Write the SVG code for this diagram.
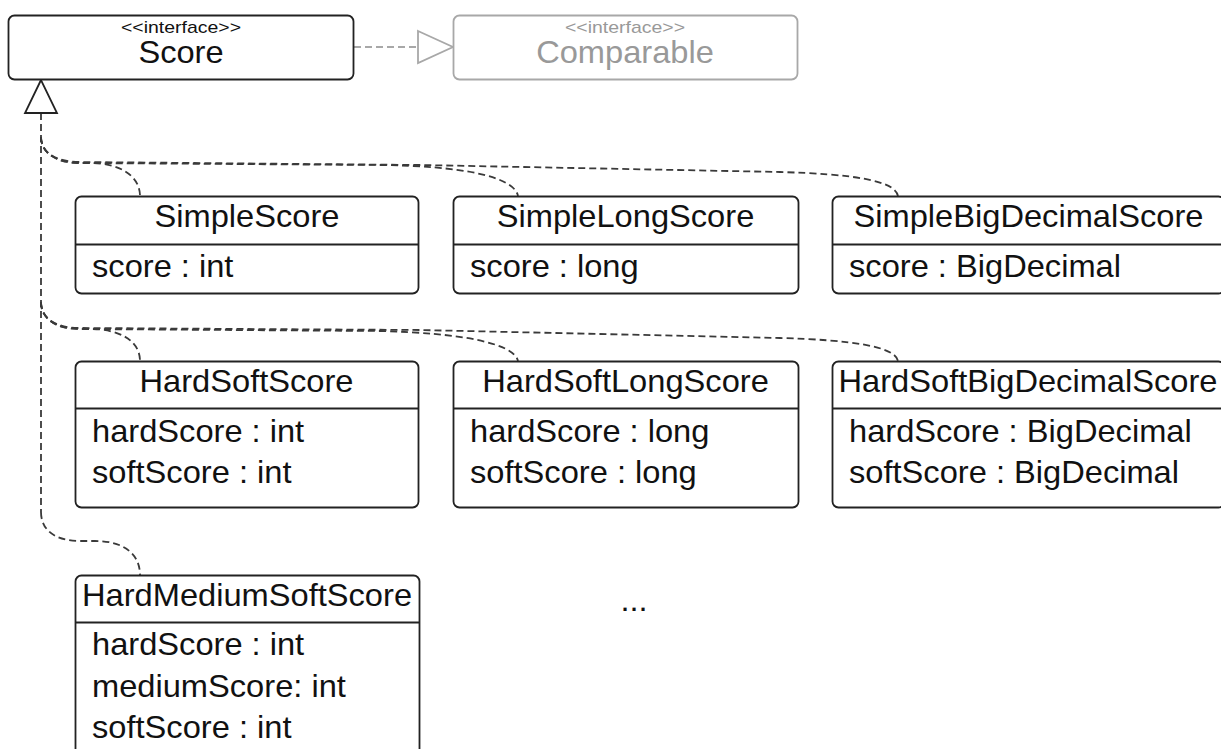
<svg xmlns="http://www.w3.org/2000/svg" width="1221" height="749" viewBox="0 0 1221 749">
<style>
.box{fill:#fff;stroke:#222;stroke-width:1.8}
.div{stroke:#222;stroke-width:1.8}
.t{font-family:"Liberation Sans",Arial,sans-serif;font-size:30.5px;fill:#111}
.c{text-anchor:middle}
.st{font-family:"Liberation Sans",Arial,sans-serif;font-size:17px;fill:#111;text-anchor:middle}
.edge{fill:none;stroke:#3a3a3a;stroke-width:1.8;stroke-dasharray:7 4}
.gray{stroke:#a8a8a8}
</style>
<rect width="1221" height="749" fill="#fff"/>
<g id="connectors">
<path class="edge" d="M41,113 L41,512"/>
<path class="edge" d="M41,137 C41,152 55,163 80,163 L90,163 C120,163 140,176 140,196"/>
<path class="edge" d="M41,137 C41,152 55,163 80,163 L380,165 C460,166 514,176 518,196"/>
<path class="edge" d="M41,137 C41,152 55,162 80,162 L420,165 L780,172 C850,174 895,180 898,196"/>
<path class="edge" d="M41,302 C41,318 55,329 80,329 L90,329 C120,329 140,341 140,361"/>
<path class="edge" d="M41,302 C41,318 55,329 80,329 L380,331 C460,333 514,343 518,361"/>
<path class="edge" d="M41,302 C41,318 55,328 80,328 L420,330 L780,338 C850,340 895,346 898,361"/>
<path class="edge" d="M41,512 C41,530 55,541 80,541 L95,541 C125,541 140,555 140,575"/>
<polygon points="41,80 25,113 57,113" fill="#fff" stroke="#222" stroke-width="1.8"/>
<path class="edge gray" d="M354,47 L418,47"/>
<polygon points="418,31 453,47 418,63" fill="#fff" stroke="#a8a8a8" stroke-width="1.8"/>
</g>
<g id="Score">
<rect class="box" x="8.5" y="15.5" width="345" height="64" rx="6"/>
<text class="st" transform="translate(181,33) scale(1.145,1)">&lt;&lt;interface&gt;&gt;</text>
<text class="t c" transform="translate(181,63) scale(1.07,1)">Score</text>
</g>
<g id="Comparable">
<rect class="box" x="453.5" y="15.5" width="344" height="64" rx="6" style="stroke:#a8a8a8"/>
<text class="st" style="fill:#999" transform="translate(625,33) scale(1.145,1)">&lt;&lt;interface&gt;&gt;</text>
<text class="t c" style="fill:#999" transform="translate(625,63) scale(1.07,1)">Comparable</text>
</g>
<g id="SimpleScore">
<rect class="box" x="75.5" y="196.5" width="343" height="97" rx="6"/>
<line class="div" x1="75.5" y1="244.5" x2="418.5" y2="244.5"/>
<text class="t c" transform="translate(247,227) scale(1.07,1)">SimpleScore</text>
<text class="t" transform="translate(92,277) scale(1.07,1)">score : int</text>
</g>
<g id="SimpleLongScore">
<rect class="box" x="453.5" y="196.5" width="345" height="97" rx="6"/>
<line class="div" x1="453.5" y1="244.5" x2="798.5" y2="244.5"/>
<text class="t c" transform="translate(625.5,227) scale(1.07,1)">SimpleLongScore</text>
<text class="t" transform="translate(470,277) scale(1.07,1)">score : long</text>
</g>
<g id="SimpleBigDecimalScore">
<rect class="box" x="832.5" y="196.5" width="392" height="97" rx="6"/>
<line class="div" x1="832.5" y1="244.5" x2="1224.5" y2="244.5"/>
<text class="t c" transform="translate(1028.5,227) scale(1.07,1)">SimpleBigDecimalScore</text>
<text class="t" transform="translate(849,277) scale(1.07,1)">score : BigDecimal</text>
</g>
<g id="HardSoftScore">
<rect class="box" x="75.5" y="361.5" width="343" height="146" rx="6"/>
<line class="div" x1="75.5" y1="408.5" x2="418.5" y2="408.5"/>
<text class="t c" transform="translate(246.5,392) scale(1.07,1)">HardSoftScore</text>
<text class="t" transform="translate(92,442) scale(1.07,1)">hardScore : int</text>
<text class="t" transform="translate(92,483) scale(1.07,1)">softScore : int</text>
</g>
<g id="HardSoftLongScore">
<rect class="box" x="453.5" y="361.5" width="345" height="146" rx="6"/>
<line class="div" x1="453.5" y1="408.5" x2="798.5" y2="408.5"/>
<text class="t c" transform="translate(625.5,392) scale(1.07,1)">HardSoftLongScore</text>
<text class="t" transform="translate(470,442) scale(1.07,1)">hardScore : long</text>
<text class="t" transform="translate(470,483) scale(1.07,1)">softScore : long</text>
</g>
<g id="HardSoftBigDecimalScore">
<rect class="box" x="832.5" y="361.5" width="392" height="146" rx="6"/>
<line class="div" x1="832.5" y1="408.5" x2="1224.5" y2="408.5"/>
<text class="t c" transform="translate(1028,392) scale(1.07,1)">HardSoftBigDecimalScore</text>
<text class="t" transform="translate(849,442) scale(1.07,1)">hardScore : BigDecimal</text>
<text class="t" transform="translate(849,483) scale(1.07,1)">softScore : BigDecimal</text>
</g>
<g id="HardMediumSoftScore">
<rect class="box" x="75.5" y="575.5" width="344" height="200" rx="6"/>
<line class="div" x1="75.5" y1="622.5" x2="419.5" y2="622.5"/>
<text class="t c" transform="translate(247,606) scale(1.07,1)">HardMediumSoftScore</text>
<text class="t" transform="translate(92,655) scale(1.07,1)">hardScore : int</text>
<text class="t" transform="translate(92,697) scale(1.07,1)">mediumScore: int</text>
<text class="t" transform="translate(92,738) scale(1.07,1)">softScore : int</text>
</g>
<g id="ellipsis">
<text class="t c" transform="translate(634,611) scale(1.07,1)">...</text>
</g>
</svg>
